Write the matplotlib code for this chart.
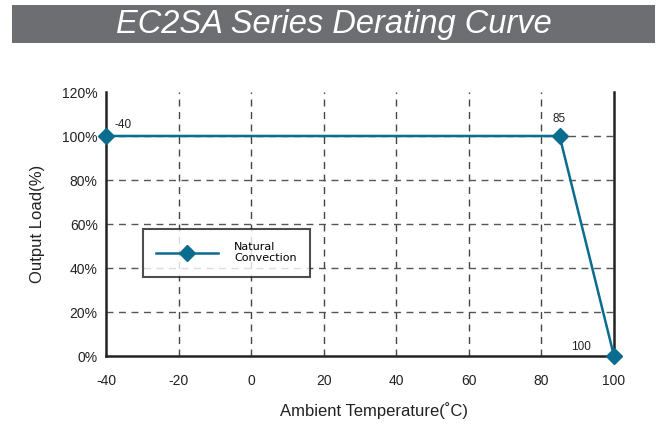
import matplotlib.pyplot as plt
import matplotlib.patches as patches

plt.rcParams['font.family'] = ['Liberation Sans', 'DejaVu Sans']
plt.rcParams['axes.unicode_minus'] = False

# data
temps = [-40, 85, 100]
load = [100, 100, 0]
point_labels = ['-40', '85', '100']
x_ticks = [-40, -20, 0, 20, 40, 60, 80, 100]
y_ticks = [0, 20, 40, 60, 80, 100, 120]

line_color = '#0a6c8e'
text_color = '#222222'

fig = plt.figure(figsize=(6.68, 4.24), dpi=100)

# title bar
bar = patches.Rectangle((12/668, 1-43/424), 643/668, 38/424, transform=fig.transFigure,
                        fc='#6d6e71', ec='none')
fig.patches.append(bar)
fig.text(0.5, 1-25/424, 'EC2SA Series Derating Curve', color='white', fontsize=23.5,
         style='italic', ha='center', va='center')

ax = fig.add_axes([106/668, 68/424, 508/668, 264/424])
ax.set_xlim(-40, 100)
ax.set_ylim(0, 120)
ax.set_xticks(x_ticks)
ax.set_yticks(y_ticks)
ax.set_yticklabels([f'{v}%' for v in y_ticks])
ax.tick_params(length=0, labelsize=10, colors=text_color)
ax.tick_params(axis='x', pad=13)
ax.tick_params(axis='y', pad=6)

for v in x_ticks[1:-1]:
    ax.axvline(v, color='#444444', lw=1, ls=(0, (5, 4)), zorder=1)
for v in y_ticks[1:-1]:
    ax.axhline(v, color='#555555', lw=1, ls=(0, (5, 4)), zorder=1)

for s in ['left', 'bottom', 'right']:
    ax.spines[s].set_linewidth(1.8)
    ax.spines[s].set_color(text_color)
ax.spines['top'].set_visible(False)

ax.plot(temps, load, color=line_color, lw=1.8, marker='D', markersize=8,
        clip_on=False, zorder=5, label='Natural\nConvection')

ax.annotate(point_labels[0], (temps[0], load[0]), xytext=(6, 6), textcoords='offset points',
            fontsize=8.5, color=text_color)
ax.annotate(point_labels[1], (temps[1], load[1]), xytext=(-5, 10), textcoords='offset points',
            fontsize=8.5, color=text_color)
ax.annotate(point_labels[2], (temps[2], load[2]), xytext=(-31, 4), textcoords='offset points',
            fontsize=8.5, color=text_color)

leg = ax.legend(loc='lower left', bbox_to_anchor=(0.073, 0.30), fontsize=8, frameon=True,
                fancybox=False, edgecolor=text_color, handlelength=5.5, borderpad=1.2,
                handletextpad=1.5, borderaxespad=0, labelspacing=0.3)
leg.get_frame().set_linewidth(1.5)
leg.set_zorder(6)
for t in leg.get_texts():
    t.set_family(['DejaVu Sans'])

ax.set_xlabel('Ambient Temperature(˚C)', fontsize=12, color=text_color, labelpad=10)
ax.xaxis.label.set_x(0.528)
ax.set_ylabel('Output Load(%)', fontsize=12, color=text_color, labelpad=12)

fig.savefig('out.png', dpi=100)
